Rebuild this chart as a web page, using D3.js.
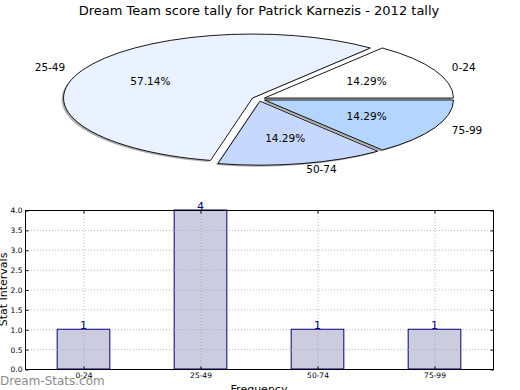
<!DOCTYPE html>
<html>
<head>
<meta charset="utf-8">
<script src="https://cdn.jsdelivr.net/npm/d3@7"></script>
<style>
  body { margin: 0; background: #fff; }
  svg { display: block; font-family: "DejaVu Sans", sans-serif; }
</style>
</head>
<body>
<svg width="520" height="390"></svg>
<script>
const categories = ["0-24", "25-49", "50-74", "75-99"];
const counts = [1, 4, 1, 1];
const yTicks = [0, 0.5, 1, 1.5, 2, 2.5, 3, 3.5, 4];
const title = "Dream Team score tally for Patrick Karnezis - 2012 tally";

const sliceColors = ["#ffffff", "#eaf1ff", "#c6d8fd", "#b4d5fe"];
const explode = [0.035, 0.035, 0.035, 0.035];

const svg = d3.select("svg");

svg.append("text")
  .attr("x", 259).attr("y", 14.5)
  .attr("text-anchor", "middle")
  .style("font-size", "13px")
  .text(title);

// --- pie (matplotlib style, squashed into an ellipse, starts at 3 o'clock, ccw)
var cx = 258.5, cy = 99, rx = 189, ry = 64;
var total = d3.sum(counts);
var slices = d3.pie().sort(null).startAngle(0).endAngle(2 * Math.PI)(counts);

function pt(t, r, o) {
  return [o[0] + r * rx * Math.cos(t), o[1] - r * ry * Math.sin(t)];
}

slices.forEach((d, i) => {
  d.mid = (d.startAngle + d.endAngle) / 2;
  d.o = [cx + explode[i] * rx * Math.cos(d.mid), cy - explode[i] * ry * Math.sin(d.mid)];
});

function wedge(d) {
  var a = pt(d.startAngle, 1, d.o), b = pt(d.endAngle, 1, d.o);
  var large = d.endAngle - d.startAngle > Math.PI ? 1 : 0;
  return "M" + d.o + "L" + a + "A" + rx + "," + ry + " 0 " + large + " 0 " + b + "Z";
}

var pieG = svg.append("g");

pieG.selectAll(".shadow")
    .data(slices)
  .enter().append("path")
    .attr("class", "shadow")
    .attr("d", wedge)
    .attr("transform", "translate(-2,1.5)")
    .style("fill", "#7a7a7a")
    .style("opacity", 0.6);

pieG.selectAll(".slice")
    .data(slices)
  .enter().append("path")
    .attr("class", "slice")
    .attr("d", wedge)
    .style("fill", (d, i) => sliceColors[i])
    .style("stroke", "#000")
    .style("stroke-width", 0.9)
    .style("stroke-linejoin", "miter");

pieG.selectAll(".lbl")
    .data(slices)
  .enter().append("text")
    .attr("class", "lbl")
    .attr("x", d => pt(d.mid, 1.1, d.o)[0])
    .attr("y", d => pt(d.mid, 1.1, d.o)[1])
    .attr("dy", "0.35em")
    .attr("text-anchor", d => Math.cos(d.mid) > 0 ? "start" : "end")
    .style("font-size", "10.5px")
    .text((d, i) => categories[i]);

pieG.selectAll(".pct")
    .data(slices)
  .enter().append("text")
    .attr("class", "pct")
    .attr("x", d => pt(d.mid, 0.6, d.o)[0])
    .attr("y", d => pt(d.mid, 0.6, d.o)[1])
    .attr("dy", "0.35em")
    .attr("text-anchor", "middle")
    .style("font-size", "10.5px")
    .text(d => (d.value / total * 100).toFixed(2) + "%");

// --- bar chart
var plotLeft = 25, plotRight = 493, plotTop = 210, plotBottom = 369;

var x = d3.scaleBand().domain(categories).range([plotLeft, plotRight])
  .paddingInner(0.55).paddingOuter(0.275);
var y = d3.scaleLinear().domain([0, 4]).range([plotBottom, plotTop]);
var cxBar = c => x(c) + x.bandwidth() / 2;

var grid = svg.append("g")
  .style("stroke", "#a8a8a8")
  .style("stroke-dasharray", "1,2")
  .style("stroke-width", 0.8);

grid.selectAll(".gy")
    .data(yTicks)
  .enter().append("line")
    .attr("x1", plotLeft).attr("x2", plotRight)
    .attr("y1", d => y(d) + 0.5).attr("y2", d => y(d) + 0.5);

grid.selectAll(".gx")
    .data(categories)
  .enter().append("line")
    .attr("x1", d => cxBar(d) + 0.5).attr("x2", d => cxBar(d) + 0.5)
    .attr("y1", plotTop).attr("y2", plotBottom);

svg.selectAll(".bar")
    .data(counts)
  .enter().append("rect")
    .attr("class", "bar")
    .attr("x", (d, i) => x(categories[i]))
    .attr("y", d => y(d))
    .attr("width", x.bandwidth())
    .attr("height", d => y(0) - y(d))
    .style("fill", "#ccccdf")
    .style("stroke", "#000080")
    .style("stroke-width", 1);

// the grid shows through the bars a little
var gridOver = svg.append("g")
  .style("stroke", "#a0a0b8")
  .style("stroke-dasharray", "1,2")
  .style("stroke-width", 0.8);

gridOver.selectAll(".gxo")
    .data(categories)
  .enter().append("line")
    .attr("x1", d => cxBar(d) + 0.5).attr("x2", d => cxBar(d) + 0.5)
    .attr("y1", (d, i) => y(counts[i])).attr("y2", plotBottom);

gridOver.selectAll(".gyo")
    .data(d3.cross(categories, yTicks).filter(p => p[1] < counts[categories.indexOf(p[0])]))
  .enter().append("line")
    .attr("x1", p => x(p[0])).attr("x2", p => x(p[0]) + x.bandwidth())
    .attr("y1", p => y(p[1]) + 0.5).attr("y2", p => y(p[1]) + 0.5);

svg.selectAll(".val")
    .data(counts)
  .enter().append("text")
    .attr("class", "val")
    .attr("x", (d, i) => cxBar(categories[i]))
    .attr("y", d => y(d) - 0.5)
    .attr("text-anchor", "middle")
    .style("fill", "#000080")
    .style("font-size", "11px")
    .text(d => d);

svg.append("rect")
  .attr("x", plotLeft + 0.5).attr("y", plotTop + 0.5)
  .attr("width", plotRight - plotLeft).attr("height", plotBottom - plotTop)
  .style("fill", "none").style("stroke", "#000").style("stroke-width", 1);

svg.append("g")
  .attr("transform", "translate(" + (plotLeft + 0.5) + ",0.5)")
  .call(d3.axisLeft(y).tickValues(yTicks).tickFormat(d3.format(".1f")).tickSize(-3).tickPadding(3));
svg.append("g")
  .attr("transform", "translate(" + (plotRight + 0.5) + ",0.5)")
  .call(d3.axisRight(y).tickValues(yTicks).tickFormat("").tickSize(-3));
svg.append("g")
  .attr("transform", "translate(0.5," + (plotBottom + 0.5) + ")")
  .call(d3.axisBottom(x).tickSize(-3).tickPadding(3));
svg.append("g")
  .attr("transform", "translate(0.5," + (plotTop + 0.5) + ")")
  .call(d3.axisTop(x).tickFormat("").tickSize(-3));

svg.selectAll(".domain").remove();
svg.selectAll(".tick text").style("font-size", "7.5px").style("font-family", "DejaVu Sans").style("fill", "#000");
svg.selectAll(".tick line").style("stroke", "#000");

svg.append("text")
  .attr("transform", "translate(6.5," + ((plotTop + plotBottom) / 2) + ") rotate(-90)")
  .attr("text-anchor", "middle")
  .style("font-size", "11px")
  .text("Stat Intervals");

svg.append("text")
  .attr("x", (plotLeft + plotRight) / 2).attr("y", 392.5)
  .attr("text-anchor", "middle")
  .style("font-size", "11px")
  .text("Frequency");

svg.append("text")
  .attr("x", 0).attr("y", 385)
  .style("font-size", "12px")
  .style("fill", "#6f6f6f")
  .style("opacity", 0.8)
  .text("Dream-Stats.com");
</script>
</body>
</html>
